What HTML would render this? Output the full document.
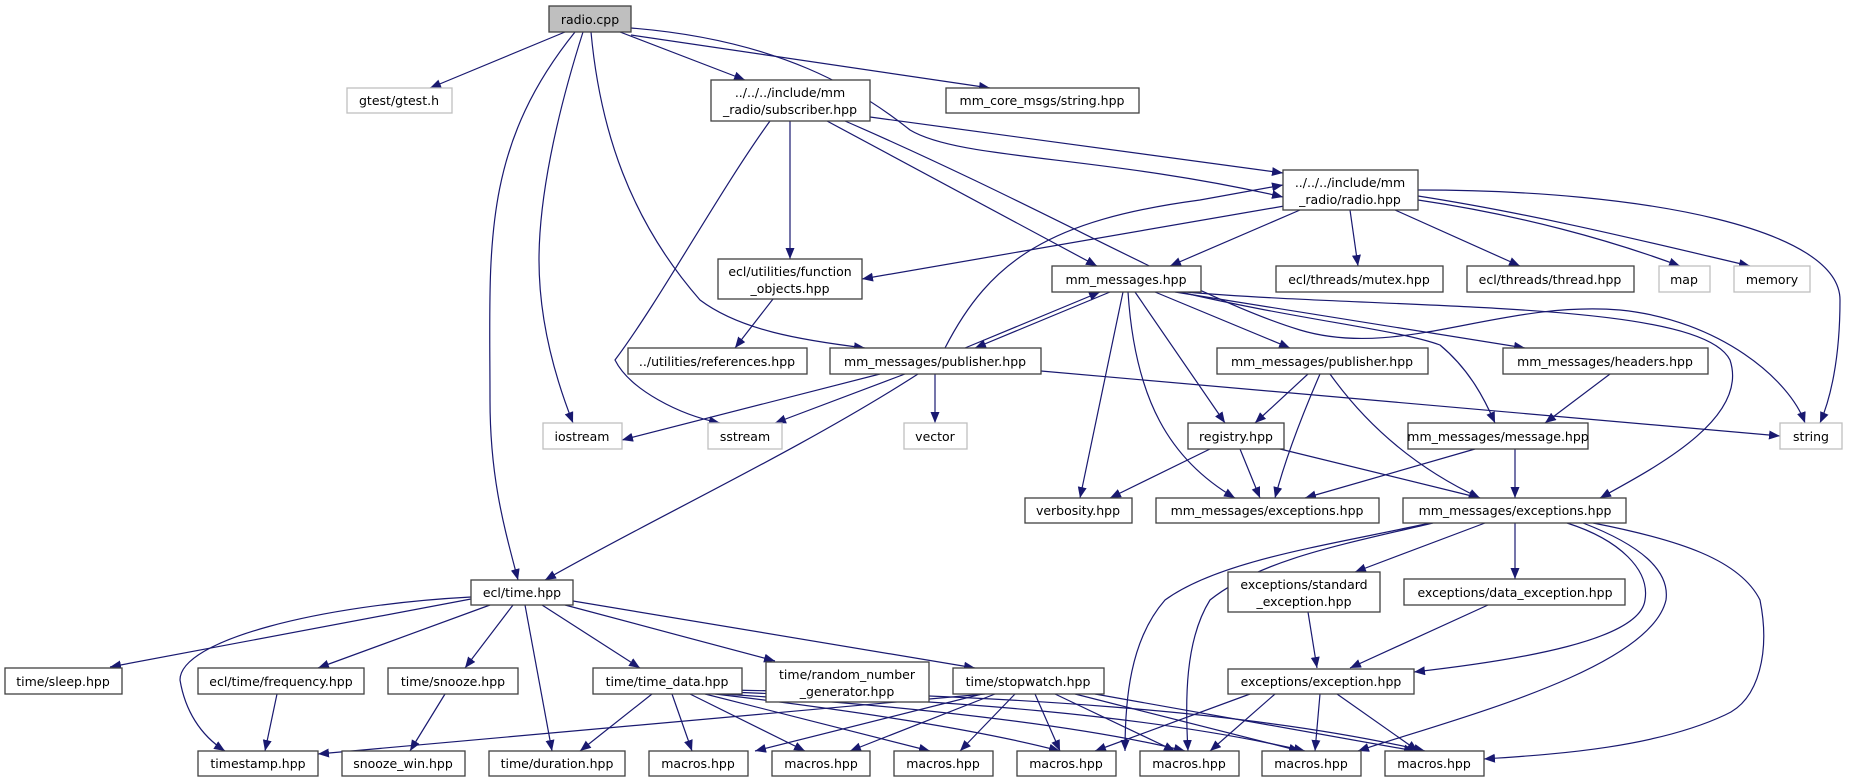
<!DOCTYPE html>
<html><head><meta charset="utf-8"><style>
html,body{margin:0;padding:0;background:#fff;}
svg{display:block;}
text{font-family:"DejaVu Sans","Liberation Sans",sans-serif;font-size:12.5px;fill:#000;text-anchor:middle;}
.b{fill:#fff;stroke:#404040;stroke-width:1.3;}
.g{fill:#fff;stroke:#bfbfbf;stroke-width:1.3;}
.e{fill:none;stroke:#191970;stroke-width:1.2;marker-end:url(#a);}
</style></head><body>
<svg width="1849" height="783" viewBox="0 0 1849 783" xmlns="http://www.w3.org/2000/svg">
<defs><marker id="a" markerUnits="userSpaceOnUse" markerWidth="12" markerHeight="10" refX="11" refY="4.5" orient="auto"><path d="M0,0 L11,4.5 L0,9 z" fill="#191970"/></marker></defs>

<!-- edges from radio.cpp -->
<path class="e" d="M565,32 L430,88"/>
<path class="e" d="M575,32 C480,150 490,250 490,400 C490,480 505,530 518,580"/>
<path class="e" d="M583,32 C555,120 539,200 539,260 C539,330 560,390 573,423"/>
<path class="e" d="M591,32 C600,130 630,220 700,300 C740,330 800,340 865,348"/>
<path class="e" d="M620,32 L745,80"/>
<path class="e" d="M631,35 L990,88"/>
<path class="e" d="M631,28 C780,40 860,90 910,130 C960,160 1100,155 1283,197"/>
<!-- subscriber -->
<path class="e" d="M870,117 L1283,173"/>
<path class="e" d="M790,121 L790,259"/>
<path class="e" d="M770,121 C720,190 660,300 615,360 C630,390 680,415 720,423"/>
<path class="e" d="M827,121 L1097,266"/>
<path class="e" d="M845,121 C1050,210 1200,300 1300,330 C1400,360 1500,300 1620,310 C1720,320 1790,380 1805,423"/>
<!-- function objects -> references -->
<path class="e" d="M773,299 L735,348"/>
<!-- radio.hpp -->
<path class="e" d="M1290,205 L862,279"/>
<path class="e" d="M1300,210 L1170,266"/>
<path class="e" d="M1350,210 L1358,266"/>
<path class="e" d="M1395,210 L1520,266"/>
<path class="e" d="M1418,200 C1520,215 1610,240 1680,266"/>
<path class="e" d="M1418,196 C1540,215 1660,245 1750,266"/>
<path class="e" d="M1418,190 C1650,190 1840,230 1840,300 C1840,360 1830,400 1820,423"/>
<path class="e" d="M945,348 C990,260 1050,220 1200,200 L1283,185"/>
<!-- mm_messages.hpp -->
<path class="e" d="M965,348 L1100,292"/>
<path class="e" d="M1110,292 L975,348"/>
<path class="e" d="M1123,292 L1080,498"/>
<path class="e" d="M1128,292 C1135,400 1170,460 1235,498"/>
<path class="e" d="M1135,292 L1225,423"/>
<path class="e" d="M1155,292 L1290,348"/>
<path class="e" d="M1175,292 L1525,348"/>
<path class="e" d="M1180,292 C1300,320 1400,330 1440,345 C1470,370 1485,400 1495,423"/>
<path class="e" d="M1185,292 C1400,310 1700,300 1730,360 C1750,420 1650,470 1600,498"/>
<!-- publisher left -->
<path class="e" d="M880,374 L622,440"/>
<path class="e" d="M905,374 L775,423"/>
<path class="e" d="M935,374 L935,423"/>
<path class="e" d="M918,374 C800,450 650,520 545,580"/>
<path class="e" d="M1041,371 L1780,436"/>
<!-- publisher right -->
<path class="e" d="M1308,374 L1255,423"/>
<path class="e" d="M1320,374 C1300,420 1285,460 1275,498"/>
<path class="e" d="M1330,374 C1370,430 1420,470 1480,498"/>
<path class="e" d="M1610,374 L1545,423"/>
<!-- registry -->
<path class="e" d="M1210,449 L1110,498"/>
<path class="e" d="M1240,449 L1260,498"/>
<path class="e" d="M1280,449 L1480,498"/>
<!-- message -->
<path class="e" d="M1475,449 L1305,498"/>
<path class="e" d="M1515,449 L1515,498"/>
<!-- exceptions right -->
<path class="e" d="M1485,523 L1355,572"/>
<path class="e" d="M1515,523 L1515,579"/>
<path class="e" d="M1567,523 C1620,540 1650,570 1645,600 C1640,640 1520,660 1414,672"/>
<path class="e" d="M1430,523 C1330,545 1220,560 1165,600 C1130,640 1125,700 1125,751"/>
<path class="e" d="M1433,523 C1340,545 1260,560 1210,600 C1185,640 1185,700 1188,751"/>
<path class="e" d="M1583,523 C1640,545 1670,570 1666,600 C1650,670 1450,720 1358,751"/>
<path class="e" d="M1593,523 C1680,540 1740,560 1760,600 C1770,650 1760,700 1725,715 C1650,750 1540,755 1484,759"/>
<path class="e" d="M1308,612 L1317,668"/>
<path class="e" d="M1488,605 L1350,668"/>
<!-- exception.hpp -->
<path class="e" d="M1250,694 L1095,751"/>
<path class="e" d="M1275,694 L1210,751"/>
<path class="e" d="M1320,694 L1315,751"/>
<path class="e" d="M1337,694 L1418,751"/>
<!-- ecl/time -->
<path class="e" d="M471,599 L110,667"/>
<path class="e" d="M471,597 C320,605 180,640 180,680 C185,710 200,735 225,751"/>
<path class="e" d="M490,605 L318,668"/>
<path class="e" d="M513,605 L465,668"/>
<path class="e" d="M525,605 L552,751"/>
<path class="e" d="M542,605 L640,668"/>
<path class="e" d="M565,605 L775,661"/>
<path class="e" d="M573,601 L975,668"/>
<path class="e" d="M277,694 L265,751"/>
<path class="e" d="M445,694 L410,751"/>
<!-- time_data -->
<path class="e" d="M652,694 L580,751"/>
<path class="e" d="M672,694 L692,751"/>
<path class="e" d="M690,694 L805,751"/>
<path class="e" d="M705,694 L930,751"/>
<path class="e" d="M715,694 C850,710 980,730 1060,751"/>
<path class="e" d="M722,694 C900,705 1080,725 1185,751"/>
<path class="e" d="M727,692 C950,700 1150,715 1305,751"/>
<path class="e" d="M730,690 C1000,695 1250,710 1425,751"/>
<!-- stopwatch -->
<path class="e" d="M985,694 L318,754"/>
<path class="e" d="M982,694 L755,751"/>
<path class="e" d="M995,694 L850,751"/>
<path class="e" d="M1015,694 L960,751"/>
<path class="e" d="M1035,694 L1060,751"/>
<path class="e" d="M1055,694 L1175,751"/>
<path class="e" d="M1075,694 L1300,751"/>
<path class="e" d="M1095,694 L1415,751"/>

<!-- nodes -->
<rect x="549" y="6" width="82" height="26" fill="#bfbfbf" stroke="#404040" stroke-width="1.3"/><text x="590" y="24">radio.cpp</text>
<rect class="g" x="347" y="88" width="105" height="25"/><text x="399" y="105">gtest/gtest.h</text>
<rect class="b" x="711" y="80" width="159" height="41"/><text x="790" y="97">../../../include/mm</text><text x="790" y="114">_radio/subscriber.hpp</text>
<rect class="b" x="946" y="88" width="193" height="25"/><text x="1042" y="105">mm_core_msgs/string.hpp</text>
<rect class="b" x="1283" y="170" width="135" height="40"/><text x="1350" y="187">../../../include/mm</text><text x="1350" y="204">_radio/radio.hpp</text>
<rect class="b" x="718" y="259" width="144" height="40"/><text x="790" y="276">ecl/utilities/function</text><text x="790" y="293">_objects.hpp</text>
<rect class="b" x="1052" y="266" width="149" height="26"/><text x="1126" y="284">mm_messages.hpp</text>
<rect class="b" x="1276" y="266" width="167" height="26"/><text x="1359" y="284">ecl/threads/mutex.hpp</text>
<rect class="b" x="1467" y="266" width="167" height="26"/><text x="1550" y="284">ecl/threads/thread.hpp</text>
<rect class="g" x="1659" y="266" width="51" height="26"/><text x="1684" y="284">map</text>
<rect class="g" x="1734" y="266" width="76" height="26"/><text x="1772" y="284">memory</text>
<rect class="b" x="628" y="348" width="179" height="26"/><text x="717" y="366">../utilities/references.hpp</text>
<rect class="b" x="830" y="348" width="211" height="26"/><text x="935" y="366">mm_messages/publisher.hpp</text>
<rect class="b" x="1217" y="348" width="211" height="26"/><text x="1322" y="366">mm_messages/publisher.hpp</text>
<rect class="b" x="1503" y="348" width="205" height="26"/><text x="1605" y="366">mm_messages/headers.hpp</text>
<rect class="g" x="543" y="423" width="79" height="26"/><text x="582" y="441">iostream</text>
<rect class="g" x="708" y="423" width="74" height="26"/><text x="745" y="441">sstream</text>
<rect class="g" x="904" y="423" width="63" height="26"/><text x="935" y="441">vector</text>
<rect class="b" x="1188" y="423" width="96" height="26"/><text x="1236" y="441">registry.hpp</text>
<rect class="b" x="1408" y="423" width="180" height="26"/><text x="1498" y="441">mm_messages/message.hpp</text>
<rect class="g" x="1780" y="423" width="62" height="26"/><text x="1811" y="441">string</text>
<rect class="b" x="1025" y="498" width="107" height="25"/><text x="1078" y="515">verbosity.hpp</text>
<rect class="b" x="1156" y="498" width="223" height="25"/><text x="1267" y="515">mm_messages/exceptions.hpp</text>
<rect class="b" x="1403" y="498" width="223" height="25"/><text x="1515" y="515">mm_messages/exceptions.hpp</text>
<rect class="b" x="471" y="580" width="102" height="25"/><text x="522" y="597">ecl/time.hpp</text>
<rect class="b" x="1228" y="572" width="152" height="40"/><text x="1304" y="589">exceptions/standard</text><text x="1304" y="606">_exception.hpp</text>
<rect class="b" x="1404" y="579" width="221" height="26"/><text x="1515" y="597">exceptions/data_exception.hpp</text>
<rect class="b" x="5" y="668" width="117" height="26"/><text x="63" y="686">time/sleep.hpp</text>
<rect class="b" x="198" y="668" width="166" height="26"/><text x="281" y="686">ecl/time/frequency.hpp</text>
<rect class="b" x="388" y="668" width="130" height="26"/><text x="453" y="686">time/snooze.hpp</text>
<rect class="b" x="593" y="668" width="149" height="26"/><text x="667" y="686">time/time_data.hpp</text>
<rect class="b" x="766" y="662" width="163" height="40"/><text x="847" y="679">time/random_number</text><text x="847" y="696">_generator.hpp</text>
<rect class="b" x="953" y="668" width="151" height="26"/><text x="1028" y="686">time/stopwatch.hpp</text>
<rect class="b" x="1228" y="669" width="186" height="25"/><text x="1321" y="686">exceptions/exception.hpp</text>
<rect class="b" x="198" y="751" width="120" height="25"/><text x="258" y="768">timestamp.hpp</text>
<rect class="b" x="342" y="751" width="123" height="25"/><text x="403" y="768">snooze_win.hpp</text>
<rect class="b" x="489" y="751" width="136" height="25"/><text x="557" y="768">time/duration.hpp</text>
<rect class="b" x="649" y="751" width="99" height="25"/><text x="698" y="768">macros.hpp</text>
<rect class="b" x="772" y="751" width="98" height="25"/><text x="821" y="768">macros.hpp</text>
<rect class="b" x="894" y="751" width="99" height="25"/><text x="943" y="768">macros.hpp</text>
<rect class="b" x="1017" y="751" width="99" height="25"/><text x="1066" y="768">macros.hpp</text>
<rect class="b" x="1140" y="751" width="99" height="25"/><text x="1189" y="768">macros.hpp</text>
<rect class="b" x="1262" y="751" width="99" height="25"/><text x="1311" y="768">macros.hpp</text>
<rect class="b" x="1385" y="751" width="99" height="25"/><text x="1434" y="768">macros.hpp</text>
</svg>
</body></html>
